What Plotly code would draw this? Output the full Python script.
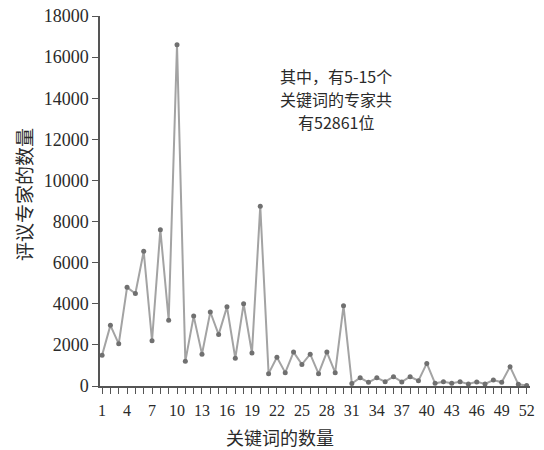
import plotly.graph_objects as go

keywords = list(range(1, 53))
experts = [1500, 2950, 2050, 4800, 4500, 6550, 2200, 7600, 3200, 16600,
           1200, 3400, 1550, 3600, 2500, 3850, 1350, 4000, 1600, 8750,
           600, 1400, 650, 1650, 1050, 1550, 600, 1650, 650, 3900,
           120, 400, 180, 400, 210, 450, 200, 450, 260, 1100,
           130, 210, 130, 210, 100, 200, 100, 290, 180, 940,
           80, 20]
x_tick_vals = list(range(1, 53, 3))
y_tick_vals = list(range(0, 18001, 2000))
note_lines = ["其中，有5-15个", "关键词的专家共", "有52861位"]
note_y = [15080, 13960, 12840]

serif = "Liberation Serif, serif"
cjk = "Noto Sans CJK SC"
ink = "#2a2a2a"

fig = go.Figure()
fig.add_trace(go.Scatter(
    x=keywords, y=experts, mode="lines+markers",
    line=dict(color="#a3a3a3", width=2),
    marker=dict(color="#707070", size=5),
    showlegend=False, cliponaxis=False,
))

annotations = [
    dict(x=29.1, y=yy, xref="x", yref="y", text=t, showarrow=False,
         xanchor="center", yanchor="middle", align="center",
         font=dict(size=16, family=cjk, color=ink))
    for t, yy in zip(note_lines, note_y)
]
annotations += [
    dict(x=0.419, y=-0.137, xref="paper", yref="paper", text="关键词的数量",
         xanchor="center", yanchor="middle", showarrow=False,
         font=dict(size=18, family=cjk, color=ink)),
    dict(x=-0.179, y=0.516, xref="paper", yref="paper", text="评议专家的数量",
         xanchor="center", yanchor="middle", textangle=-90, showarrow=False,
         font=dict(size=19, family=cjk, color=ink)),
]

fig.update_layout(
    width=544, height=450,
    margin=dict(l=100, r=14, t=16, b=64, autoexpand=False),
    paper_bgcolor="white", plot_bgcolor="white",
    font=dict(family=serif, color=ink, size=15),
    xaxis=dict(
        range=[0.75, 52.4], tickvals=x_tick_vals, ticktext=[str(v) for v in x_tick_vals],
        ticks="outside", ticklen=6, tickcolor="#555", showline=True, linecolor="#555",
        linewidth=1.5, showgrid=False, zeroline=False, automargin=False,
        ticklabelstandoff=3,
        minor=dict(dtick=1, tick0=1, ticks="outside", ticklen=6, tickcolor="#555", showgrid=False),
        tickfont=dict(size=16, family=serif, color=ink),
    ),
    yaxis=dict(
        range=[0, 18000], tickvals=y_tick_vals, ticktext=[str(v) for v in y_tick_vals],
        ticks="outside", ticklen=6, tickcolor="#555",
        showline=True, linecolor="#555", linewidth=1.5, showgrid=False, zeroline=False,
        automargin=False, tickfont=dict(size=18, family=serif, color=ink),
    ),
    annotations=annotations,
)

fig.write_html("out.html", config={"displayModeBar": False},
               post_script="document.body.style.margin='0';")
